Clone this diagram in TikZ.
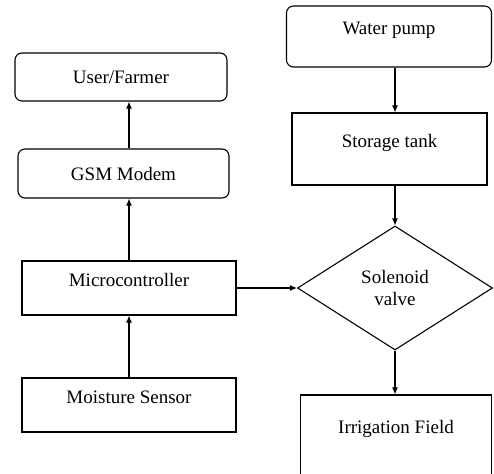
\documentclass[tikz,border=0pt]{standalone}
\usepackage{fontspec}
\setmainfont{Liberation Serif}
\usetikzlibrary{shapes.geometric,arrows.meta}

\begin{document}
\begin{tikzpicture}[x=1pt,y=-1pt,
    font=\fontsize{19}{22}\selectfont,
    line width=1.1pt,
    softbox/.style={draw,rounded corners=7pt,minimum width=#1},
    hardbox/.style={draw,minimum width=#1},
    lowtext/.style={text height=13pt,text depth=16pt},
    valvebox/.style={draw,diamond,aspect=1.57,minimum width=195pt,minimum height=124pt,inner sep=0pt,align=center},
    flow/.style={-{Latex[length=7pt,width=6pt]}}]
  \useasboundingbox (0,0) rectangle (494,473);
  \clip (0,0) rectangle (494,473);
  % left column
  \node[softbox=212pt,minimum height=48pt] (user) at (121,77) {User/Farmer};
  \node[softbox=211pt,minimum height=49pt] (gsm) at (123.5,173.5) {GSM Modem};
  \node[hardbox=214pt,minimum height=54pt,lowtext] (micro) at (129,288) {Microcontroller};
  \node[hardbox=214pt,minimum height=54pt,lowtext] (sensor) at (129,405) {Moisture Sensor};
  % right column
  \node[softbox=205pt,minimum height=61pt,lowtext] (pump) at (389,36.5) {Water pump};
  \node[hardbox=195pt,minimum height=72pt,lowtext] (tank) at (389.5,149) {Storage tank};
  \node[valvebox] (valve) at (395,288) {Solenoid\\valve};
  \node[hardbox=191pt,minimum height=80pt,lowtext] (field) at (396,435) {Irrigation Field};
  % connectors
  \draw[flow] (sensor.north) -- (micro.south);
  \draw[flow] (micro.north) -- (micro.north |- gsm.south);
  \draw[flow] (micro.north |- gsm.north) -- (micro.north |- user.south);
  \draw[flow] (valve.north |- pump.south) -- (valve.north |- tank.north);
  \draw[flow] (valve.north |- tank.south) -- (valve.north);
  \draw[flow] (micro.east) -- (valve.west);
  \draw[flow] (valve.south) -- (valve.south |- field.north);
\end{tikzpicture}
\end{document}
